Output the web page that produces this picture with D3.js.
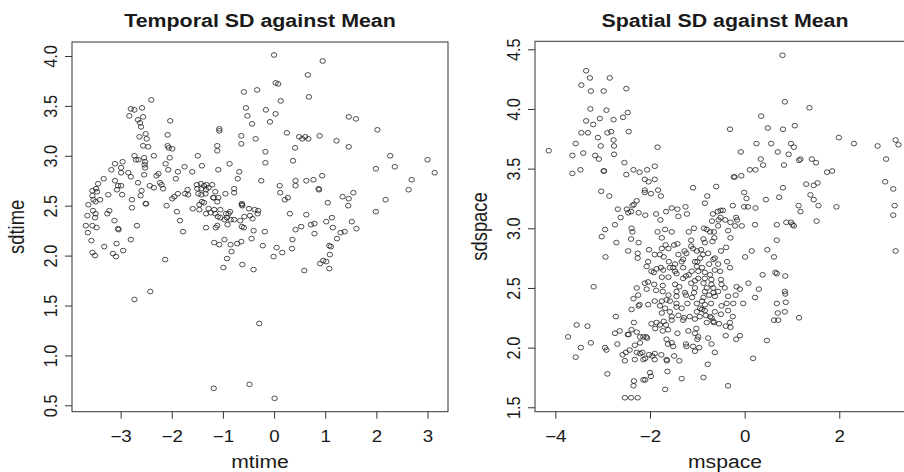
<!DOCTYPE html>
<html>
<head>
<meta charset="utf-8">
<script src="https://cdn.jsdelivr.net/npm/d3@7"></script>
<style>
  html, body { margin: 0; padding: 0; background: #ffffff; }
  svg { display: block; font-family: "Liberation Sans", Arial, Helvetica, sans-serif; }
</style>
</head>
<body>
<svg id="chart" width="904" height="472"></svg>
<script>
// ---------- data ----------
const titles = ["Temporal SD against Mean", "Spatial SD against Mean"];
const xLabels = ["mtime", "mspace"];
const yLabels = ["sdtime", "sdspace"];
const leftXTicks = [-3, -2, -1, 0, 1, 2, 3];
const leftYTicks = [0.5, 1.0, 1.5, 2.0, 2.5, 3.0, 3.5, 4.0];
const rightXTicks = [-4, -2, 0, 2];
const rightYTicks = [1.5, 2.0, 2.5, 3.0, 3.5, 4.0, 4.5];

// [mtime, sdtime]
const temporalPoints = [
[0.00,4.01],[0.95,3.95],[0.66,3.81],[0.68,3.59],[0.03,3.73],[0.08,3.72],[0.13,3.55],[0.03,3.42],[-0.16,3.46],
[-0.33,3.66],[-0.59,3.64],[-0.55,3.48],[-0.52,3.40],
[-1.60,2.84],[-1.75,2.89],[-1.88,2.84],[-1.92,2.77],[-2.03,3.35],[-2.08,3.21],[-2.08,3.10],[-2.06,3.08],[-1.99,3.07],
[-2.04,2.98],[-2.12,2.92],[-2.07,2.86],[-2.26,2.82],[-2.30,2.80],[-2.35,3.00],[-2.40,3.56],[-2.80,3.47],[-2.73,3.46],
[-2.83,3.40],[-2.58,3.48],[-2.56,3.39],[-2.66,3.36],[-2.62,3.33],[-2.60,3.29],[-2.51,3.22],[-2.63,3.19],[-2.49,3.17],
[-2.56,3.10],[-2.46,3.09],[-2.73,3.00],[-2.65,2.96],[-2.70,2.96],[-2.54,2.98],[-2.52,2.94],[-2.53,2.91],[-2.52,2.88],
[-2.54,2.81],[-2.66,2.73],[-2.59,2.65],[-2.61,2.60],[-2.51,2.52],[-2.50,2.52],[-2.78,2.56],[-2.43,2.70],[-2.35,2.68],
[-2.23,2.73],[-2.20,2.71],[-2.17,2.67],[-2.10,2.50],[-2.96,2.94],[-3.11,2.92],[-2.99,2.88],[-2.99,2.83],[-2.85,2.83],
[-2.80,2.79],[-3.11,2.75],[-3.05,2.70],[-3.07,2.66],[-2.99,2.70],[-2.97,2.61],[-3.18,2.86],[-3.33,2.77],[-3.24,2.61],
[-3.40,2.56],[-3.44,2.72],[-3.48,2.67],[-3.55,2.65],[-3.46,2.64],[-3.55,2.60],[-3.53,2.56],[-3.49,2.54],[-3.63,2.51],
[-3.54,2.45],[-3.49,2.42],[-3.50,2.38],[-3.65,2.40],[-3.26,2.42],[-3.22,2.45],[-3.12,2.35],[-3.68,2.30],[-3.55,2.30],
[-3.47,2.28],[-3.64,2.23],[-3.05,2.27],[-3.04,2.26],[-2.78,2.48],[-2.68,2.30],
[2.02,3.26],[1.99,2.87],[2.27,3.00],[2.36,2.89],[3.00,2.96],[3.14,2.83],[2.69,2.76],[2.63,2.66],[2.18,2.56],[1.99,2.44],
[1.46,3.39],[1.60,3.37],[1.46,3.09],[1.22,3.15],[1.05,2.53],[1.34,2.59],[1.46,2.57],[1.55,2.63],[1.45,2.50],[1.52,2.34],
[1.61,2.27],[1.13,2.38],[1.02,2.34],[1.15,2.28],[1.30,2.23],[1.38,2.24],
[-1.95,2.59],[-1.99,2.57],[-1.90,2.44],[-1.84,2.35],[-1.78,2.24],[-1.88,2.62],[-1.74,2.62],[-1.69,2.66],[-1.68,2.61],
[-1.59,2.47],[-1.46,2.46],[-1.51,2.71],[-1.43,2.72],[-1.37,2.70],[-1.32,2.71],[-1.21,2.71],[-1.50,2.67],[-1.42,2.67],
[-1.33,2.66],[-1.28,2.68],[-1.48,2.62],[-1.42,2.61],[-1.34,2.62],[-1.41,2.54],[-1.37,2.53],[-1.46,2.51],[-1.28,2.47],
[-1.24,2.43],[-1.33,2.42],[-1.33,2.28],
[-1.07,3.27],[-1.07,3.25],[-0.43,3.32],[-0.08,3.34],[-0.64,3.20],[-0.64,3.12],[-0.36,3.17],[0.25,3.23],[0.49,3.19],
[0.55,3.17],[0.61,3.19],[0.67,3.17],[0.89,3.20],[-1.11,3.10],[-1.11,3.05],[-1.49,3.00],[-0.17,3.04],[-0.17,2.93],
[0.41,3.08],[0.37,2.95],[-1.41,2.90],[-0.87,2.92],[-1.09,2.86],[-0.68,2.84],[-0.71,2.77],[-0.25,2.75],[0.42,2.75],
[0.42,2.70],[0.63,2.75],[0.77,2.76],[0.87,2.67],[0.88,2.66],[0.94,2.80],[0.11,2.70],[0.12,2.63],[0.21,2.56],[0.27,2.58],
[0.31,2.42],[0.63,2.41],[-0.78,2.67],[-0.78,2.63],[-0.95,2.62],[-1.15,2.64],[-1.09,2.58],[-1.11,2.54],[-1.19,2.58],
[-1.18,2.58],
[-1.17,2.13],[-1.07,2.11],[-0.97,2.16],[-0.85,2.11],[-0.83,2.04],[-0.72,2.12],[-0.64,2.14],[-0.92,1.97],[-0.99,1.88],
[-0.62,1.91],[-0.40,1.86],[-0.22,2.10],[-0.01,1.99],[0.05,2.08],[0.16,2.03],[0.35,2.07],[0.36,2.16],[0.42,2.26],
[0.53,2.29],[0.72,2.31],[0.79,2.32],[0.79,2.22],[0.59,1.85],[0.90,1.92],[0.96,1.95],
[-1.17,2.46],[-1.15,2.42],[-1.10,2.39],[-1.11,2.30],[-1.14,2.28],[-1.05,2.46],[-1.05,2.38],[-0.94,2.42],[-0.92,2.38],
[-0.89,2.42],[-0.86,2.44],[-0.97,2.36],[-0.91,2.31],[-0.85,2.36],[-0.78,2.36],[-0.66,2.35],[-0.58,2.39],[-0.63,2.29],
[-0.59,2.28],[-0.49,2.47],[-0.38,2.46],[-0.31,2.45],[-0.32,2.42],[-0.47,2.40],[-0.42,2.37],[-0.40,2.25],[-0.44,2.17],
[-0.18,2.24],[-0.63,2.51],[-0.63,2.52],[-0.62,2.50],
[-3.57,2.15],[-3.55,2.03],[-3.50,2.00],[-3.32,2.09],[-3.15,2.02],[-3.09,1.99],[-3.08,2.12],[-2.95,2.05],[-2.80,2.16],
[-2.13,1.96],[-2.73,1.56],[-2.42,1.64],
[1.02,1.94],[1.08,2.10],[1.11,2.09],[1.09,2.01],[1.08,1.87],[1.23,2.17],
[-0.29,1.32],[-1.18,0.67],[-0.48,0.71],[0.01,0.57]
];

// [mspace, sdspace]
const spatialPoints = [
[-4.14,3.65],[-3.64,3.61],[-3.64,3.46],[-3.57,3.71],[-3.41,3.63],[-3.47,3.49],[-3.35,4.32],[-3.45,4.20],[-3.27,4.26],
[-3.25,4.15],[-3.45,3.80],[-3.31,3.80],[-3.26,4.00],[-3.35,3.90],[-3.20,3.87],[-3.06,3.92],[-2.92,3.99],[-2.85,4.26],
[-2.98,4.15],[-2.50,4.17],[-2.47,3.97],[-2.57,3.93],[-2.77,3.91],[-2.82,3.81],[-2.90,3.80],[-2.45,3.81],[-2.77,3.74],
[-2.76,3.69],[-3.04,3.69],[-3.10,3.76],[-3.16,3.61],[-3.08,3.58],[-2.76,3.62],[-2.98,3.48],[-2.97,3.48],[-2.54,3.55],
[-2.50,3.45],[-2.35,3.49],[-2.22,3.47],[-2.06,3.49],[-1.90,3.52],[-1.84,3.68],[-2.11,3.41],[-2.03,3.39],[-1.90,3.41],
[-2.11,3.32],[-2.11,3.30],[-1.98,3.29],[-1.83,3.32],[-1.77,3.27],[-3.03,3.31],[-2.86,3.27],[-2.68,3.16],[-2.28,3.23],
[-2.34,3.20],[-2.37,3.19],[-2.49,3.16],[-2.46,3.13],[-2.40,3.14],[-2.62,3.09],[-2.74,3.03],[-2.24,3.13],[-2.10,3.11],
[-1.87,3.12],[-1.78,3.07],[-1.66,3.14],[-1.54,3.17],[-1.42,3.16],[-1.40,3.10],[-1.25,3.18],[-1.22,3.12],[-2.95,2.99],
[-1.09,3.34],[-0.84,3.21],[-0.79,3.27],[-0.60,3.35],[-0.67,3.12],[-0.57,3.14],[-0.51,3.15],[-0.46,3.15],[-0.69,3.06],
[-0.55,3.07],[-0.51,3.09],[-0.41,3.07],[-0.30,3.05],[-0.16,3.07],[-0.18,3.09],[-0.31,3.83],[-0.25,3.19],[-0.23,3.43],
[-0.21,3.43],[-0.08,3.64],[-0.07,3.44],[-0.01,3.30],[0.04,3.25],[-0.01,3.18],[0.07,3.18],[0.11,3.49],[0.23,3.49],
[0.23,3.17],[0.25,3.71],[0.35,3.94],[0.34,3.58],[0.39,3.53],[0.45,3.24],[0.49,3.84],[0.56,3.71],[0.68,3.03],[0.70,3.64],
[0.73,3.26],[0.80,4.45],[0.85,4.06],[0.81,3.83],[0.83,3.53],[0.81,3.34],[0.88,3.05],[0.93,3.62],[0.98,3.71],[1.04,3.68],
[1.06,3.86],[0.98,3.05],[1.01,3.03],[1.04,3.02],[1.15,3.57],[1.18,3.58],[1.14,3.19],[1.18,3.14],[1.30,3.37],[1.37,4.01],
[1.42,3.58],[1.51,3.55],[1.39,3.28],[1.46,3.24],[1.46,3.36],[1.54,3.38],[1.56,3.19],[1.52,3.06],[1.74,3.47],[1.85,3.48],
[1.94,3.18],[1.99,3.76],[2.31,3.71],[2.81,3.69],[2.99,3.58],[2.97,3.39],[3.14,3.33],[3.17,3.19],[3.14,3.11],[3.19,3.74],
[3.25,3.70],[3.19,2.81],
[-3.02,2.93],[-2.94,2.76],[-3.19,2.51],[0.48,2.82],[0.62,2.76],[0.65,2.63],[0.68,2.62],[0.86,2.60],[0.85,2.47],[0.86,2.45],
[0.87,2.38],[0.68,2.37],[0.70,2.29],[0.85,2.30],[1.15,2.25],[0.62,2.23],[0.71,2.23],[0.47,2.06],[0.68,2.90],
[-2.39,3.00],[-2.37,2.97],[-2.40,2.91],[-2.24,2.88],[-1.84,2.97],[-1.68,2.99],[-1.54,2.97],[-1.75,2.92],[-1.42,2.87],
[-1.18,2.97],[-1.07,3.00],[-1.13,2.90],[-0.86,3.00],[-0.80,2.99],[-0.73,2.97],[-0.65,2.97],[-0.56,3.02],[-0.64,2.92],
[-0.68,2.89],[-0.87,2.91],[-0.84,2.88],[-0.35,2.98],[-0.30,2.92],[-0.20,3.02],[-0.06,3.02],[0.22,3.03],[-2.71,2.88],
[-2.46,2.81],[-2.26,2.79],[-2.26,2.75],[-2.02,2.82],[-1.75,2.83],[-1.67,2.86],[-1.61,2.83],[-1.49,2.86],[-1.79,2.78],
[-1.71,2.76],[-1.90,2.78],[-1.40,2.78],[-1.27,2.81],[-1.23,2.79],[-1.30,2.74],[-1.13,2.85],[-1.09,2.83],[-1.01,2.81],
[-0.92,2.82],[-0.88,2.78],[-0.94,2.75],[-1.00,2.72],[-1.05,2.72],[-0.77,2.79],[-0.66,2.74],[-0.63,2.75],[-0.75,2.70],
[-0.50,2.81],[-0.39,2.84],[0.01,2.76],[0.15,2.81],[-0.37,2.72],[-0.31,2.67],[-2.04,2.72],[-1.60,2.72],[-1.47,2.70],
[-1.33,2.72],[-2.07,2.68],[-1.97,2.64],[-1.92,2.63],[-1.86,2.66],[-1.77,2.67],[-1.72,2.65],[-1.58,2.67],[-1.51,2.67],
[-1.47,2.64],[-1.44,2.62],[-1.61,2.59],[-1.75,2.59],[-1.30,2.67],[-1.24,2.60],[-1.18,2.61],[-1.12,2.64],[-1.01,2.68],
[-0.98,2.64],[-0.90,2.67],[-0.84,2.63],[-0.73,2.61],[-0.63,2.65],[-0.56,2.70],[-0.52,2.64],[-0.98,2.58],[-1.05,2.56],
[-1.13,2.54],[-1.30,2.58],[-0.84,2.58],[-0.87,2.54],[-0.70,2.57],[-0.50,2.57],[-0.70,2.53],[0.38,2.61],[0.08,2.54],
[-0.17,2.51],[-2.11,2.54],[-2.04,2.55],[-1.91,2.53],[-1.73,2.52],[-1.47,2.53],[-2.28,2.50],[-2.25,2.44],[-2.35,2.41],
[-2.22,2.36],[-2.07,2.49],[-1.87,2.48],[-1.73,2.47],[-1.61,2.44],[-1.44,2.47],[-1.44,2.43],[-1.38,2.51],[-1.26,2.46],
[-1.24,2.44],[-1.05,2.50],[-1.07,2.46],[-1.11,2.42],[-0.84,2.47],[-0.80,2.50],[-0.75,2.44],[-0.66,2.46],[-0.63,2.43],
[-0.66,2.50],[-0.56,2.47],[-0.49,2.53],[-0.42,2.50],[-0.35,2.43],[-0.19,2.44],[-0.10,2.49],[-0.03,2.37],[0.22,2.42],
[0.30,2.49],[-0.87,2.42],[-0.90,2.39],[-1.75,2.39],[-1.90,2.39],[-2.04,2.36],[-1.65,2.40],[-1.58,2.39],[-1.44,2.37],
[-1.21,2.37],[-1.01,2.37],[-0.84,2.36],[-0.71,2.37],[-0.38,2.37],[-0.24,2.37],[-2.24,2.35],[-2.39,2.32],[-1.79,2.35],
[-1.68,2.33],[-1.58,2.30],[-1.75,2.29],[-1.44,2.34],[-1.33,2.33],[-0.94,2.33],[-0.90,2.32],[-0.84,2.31],[-1.01,2.30],
[-0.63,2.30],[-0.49,2.35],[-0.50,2.28],[-0.35,2.31],
[-1.54,2.26],[-1.40,2.27],[-1.28,2.25],[-1.16,2.26],[-1.05,2.24],[-0.95,2.26],[-0.82,2.27],[-0.73,2.26],[-0.70,2.25],
[-0.66,2.22],[-0.25,2.26],[-2.72,2.26],[-3.55,2.19],[-3.32,2.18],[-2.34,2.21],[-2.39,2.15],[-2.45,2.11],[-2.47,2.11],
[-2.28,2.13],[-2.21,2.09],[-2.14,2.09],[-2.06,2.08],[-2.08,2.09],[-1.97,2.20],[-1.86,2.21],[-1.89,2.16],[-1.79,2.19],
[-1.71,2.22],[-1.66,2.19],[-1.62,2.15],[-1.73,2.14],[-1.54,2.23],[-1.42,2.12],[-1.30,2.23],[-1.19,2.14],[-1.05,2.12],
[-1.02,2.16],[-0.98,2.09],[-0.80,2.21],[-0.65,2.21],[-0.54,2.20],[-0.40,2.18],[-0.31,2.21],[-0.30,2.17],[-2.74,2.12],
[-2.64,2.14],[-0.40,2.10],[-0.10,2.10],[-0.18,2.07],[-3.73,2.09],[-3.46,2.00],[-3.25,2.04],[-2.95,2.00],[-2.92,1.98],
[-2.69,2.03],[-2.51,1.96],[-2.58,1.94],[-2.43,1.98],[-2.32,2.02],[-2.21,2.04],[-2.28,1.96],[-2.16,1.96],[-2.21,1.95],
[-2.02,1.94],[-1.90,1.95],[-1.95,1.93],[-2.10,1.91],[-2.32,1.90],[-2.53,1.89],[-2.14,1.90],[-1.65,2.07],[-1.62,2.03],
[-1.54,2.04],[-1.51,2.01],[-1.24,2.03],[-1.23,2.01],[-1.09,2.01],[-1.05,1.97],[-0.96,2.00],[-1.00,2.07],[-0.77,2.08],
[-0.70,2.03],[-0.63,1.96],[-1.49,1.93],[-1.38,1.89],[-1.65,1.90],[-1.64,1.89],[-1.76,1.94],[-1.90,1.90],[-3.57,1.92],
[-2.90,1.78],[-2.00,1.79],[-1.98,1.76],[-2.14,1.73],[-2.10,1.73],[-2.34,1.72],[-2.35,1.68],[-1.63,1.80],[-1.33,1.74],
[-0.78,1.86],[-0.87,1.75],[-0.35,1.68],[-1.68,1.65],[-2.53,1.58],[-2.40,1.58],[-2.26,1.58],[0.18,1.91]
];

// ---------- drawing ----------
const svg = d3.select("#chart");
const STRETCH = 1.15;     // text in the reference is slightly widened
const INK = "#1a1a1a";

const panels = [
  { title: titles[0], xl: xLabels[0], yl: yLabels[0], data: temporalPoints,
    xDom: [-3.95, 3.40], yDom: [0.436, 4.14], left: 72, right: 448, top: 42, bottom: 411.7,
    xt: leftXTicks, yt: leftYTicks, xfmt: d3.format("d") },
  { title: titles[1], xl: xLabels[1], yl: yLabels[1], data: spatialPoints,
    xDom: [-4.43, 3.60], yDom: [1.463, 4.567], left: 535, right: 915, top: 41.3, bottom: 411.7,
    xt: rightXTicks, yt: rightYTicks, xfmt: d3.format("d") }
];

panels.forEach(p => {
  const x = d3.scaleLinear().domain(p.xDom).range([p.left, p.right]);
  const y = d3.scaleLinear().domain(p.yDom).range([p.bottom, p.top]);
  const g = svg.append("g");
  const cx = (p.left + p.right) / 2;
  const cy = (p.top + p.bottom) / 2;

  // points
  g.append("g").selectAll("ellipse").data(p.data).join("ellipse")
    .attr("cx", d => x(d[0])).attr("cy", d => y(d[1]))
    .attr("rx", 2.7).attr("ry", 2.35)
    .attr("fill", "none").attr("stroke", "#222").attr("stroke-width", 0.8);

  // box
  g.append("rect")
    .attr("x", p.left).attr("y", p.top)
    .attr("width", p.right - p.left).attr("height", p.bottom - p.top)
    .attr("fill", "none").attr("stroke", "#333").attr("stroke-width", 1);

  // x axis
  const xa = g.append("g").attr("transform", `translate(0,${p.bottom})`)
    .call(d3.axisBottom(x).tickValues(p.xt).tickFormat(p.xfmt).tickSize(7).tickSizeOuter(0));
  xa.select(".domain").remove();
  xa.selectAll(".tick line").attr("stroke", "#333");
  xa.selectAll(".tick text")
    .attr("y", 30).attr("dy", null)
    .attr("transform", `scale(${STRETCH},1)`)
    .attr("fill", INK)
    .style("font-size", "16.3px")
    .style("font-family", "'Liberation Sans', Arial, sans-serif");

  // y axis
  const ya = g.append("g").attr("transform", `translate(${p.left},0)`)
    .call(d3.axisLeft(y).tickValues(p.yt).tickFormat(d3.format(".1f")).tickSize(7).tickSizeOuter(0));
  ya.select(".domain").remove();
  ya.selectAll(".tick line").attr("stroke", "#333");
  ya.selectAll(".tick text")
    .attr("x", 0).attr("dy", null).attr("y", 0)
    .attr("text-anchor", "middle")
    .attr("transform", `translate(-15,0) scale(${STRETCH},1) rotate(-90)`)
    .attr("fill", INK)
    .style("font-size", "16.3px")
    .style("font-family", "'Liberation Sans', Arial, sans-serif");

  // title
  g.append("text")
    .attr("transform", `translate(${cx},26.7) scale(${STRETCH},1)`)
    .attr("text-anchor", "middle")
    .attr("font-weight", "bold")
    .attr("font-size", 18.6)
    .attr("fill", INK)
    .text(p.title);

  // x label
  g.append("text")
    .attr("transform", `translate(${cx},468) scale(${STRETCH},1)`)
    .attr("text-anchor", "middle")
    .attr("font-size", 18.4)
    .attr("fill", INK)
    .text(p.xl);

  // y label
  g.append("text")
    .attr("transform", `translate(${p.left - 48.5},${cy}) scale(${STRETCH},1) rotate(-90)`)
    .attr("text-anchor", "middle")
    .attr("font-size", 18.4)
    .attr("fill", INK)
    .text(p.yl);
});
</script>
</body>
</html>
